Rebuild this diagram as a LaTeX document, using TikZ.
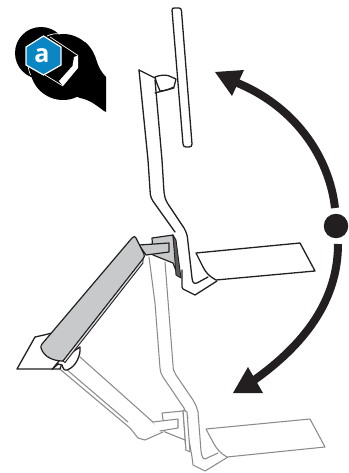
\documentclass[tikz,border=0pt]{standalone}
\usepackage{fontspec}
\setmainfont{Open Sans}
\definecolor{ink}{HTML}{231F20}
\definecolor{ghost}{HTML}{8A8A8A}
\definecolor{armgray}{HTML}{C8C9CB}
\definecolor{hexblue}{HTML}{0A86C4}
\tikzset{
  ln/.style={draw=ink,line width=1.3pt,line join=round,line cap=round,fill=none},
  gl/.style={draw=ghost,line width=1.05pt,line join=round,line cap=round,fill=none},
  pl/.style={draw=ink,line width=1.2pt,line join=round,fill=armgray},
  bigarrow/.style={draw=ink,line width=8pt,fill=none},
  head/.style={fill=ink,draw=none}
}
\begin{document}
\begin{tikzpicture}[x=1pt,y=-1pt]
\useasboundingbox (0,0) rectangle (348,473);
% ghost (lower) stand
\draw[gl] (149,257) -- (155,303) -- (160,368) .. controls (160.5,372) and (161,374) .. (163,377) -- (184,408) -- (188,418);
\draw[gl] (165,262) -- (173,365) .. controls (173,369) and (174,372) .. (176,375) -- (193,400) .. controls (196,405) and (197,408) .. (198,412) -- (201,451) .. controls (201.5,456) and (203,459) .. (205,459) -- (218,453);
\draw[gl] (189,440) -- (192,457) -- (193,465) -- (205,471) -- (228,457);
\draw[gl,fill=white] (206,429) -- (310,419) -- (325,447) -- (227,457) .. controls (220,453) and (217,449) .. (214,444) -- cycle;
\draw[gl] (80,357) -- (163,431);
\draw[gl] (55,365) -- (130,428) -- (138,438) -- (145,440) -- (163,432);
\draw[gl] (59,363) -- (128,422);
\draw[gl,fill=white] (162,413) -- (183,411) -- (186,450) -- (185,440) -- (165,432) -- cycle;
\draw[gl,fill=white] (183,410) -- (187,412) -- (190,452) -- (186,450) -- cycle;
\draw[gl,fill=white] (153,422) -- (178,419) -- (178,428) -- (160,431);
% upper stand
\draw[ln,fill=white] (172,10) .. controls (172,8) and (173,8) .. (175,8) -- (179,8) .. controls (181,8) and (181,9) .. (181.5,11) -- (192,144) .. controls (192,146) and (191,147) .. (189,147) -- (186,147) .. controls (184,147) and (183.5,146) .. (183,144) -- cycle;
\draw[ln] (139,70) -- (148,160) -- (150,190) .. controls (150,197) and (152,200) .. (155,204) -- (175,232);
\draw[ln] (155,80) -- (162,160) -- (164,192) .. controls (165,198) and (165,199) .. (168,204) -- (184,228) .. controls (186,232) and (187,234) .. (187.5,238) -- (192,278) .. controls (192.5,283) and (194,284) .. (197,283) -- (208,277);
\draw[ln] (139,70) -- (155,78);
\draw[ln] (182,270) -- (182,287) -- (183,289) -- (195,295) -- (217,281);
\draw[ln,fill=white] (155,77) .. controls (160,75) and (164,75) .. (168,75.5) -- (176,79) -- (174,87) .. controls (168,90) and (163,91) .. (160,91) .. controls (158,86) and (156,82) .. (155,77) -- cycle;
\draw[ln] (155,93) -- (174,88);
% foot
\draw[ln,fill=white] (196,253) -- (300,243) -- (315,271) -- (216,280) .. controls (209,276) and (206,273) .. (203,267) -- cycle;
% bracket
\draw[pl] (152,238) -- (173,235) -- (178,276) -- (173,263) -- (153,255) -- cycle;
\draw[draw=ink,line width=0.9pt,fill=ink!65!armgray,line join=round] (173,235) -- (176,240) -- (181,278) -- (176,275) -- cycle;
\draw[pl] (139,245) -- (169,243) -- (169,252) -- (146,255) -- cycle;
% left base
\draw[ln,fill=white] (17,369) -- (35,337) -- (44,335) -- (52,333) -- (70,340) -- (60,369) -- cycle;
\draw[ln,fill=white] (52,369.5) -- (59,361) -- (80,347) .. controls (81,355) and (76,367) .. (67,370) .. controls (64,371) and (63,368) .. (62,365) -- (58,364) -- cycle;
% gray arm
\draw[pl] (132,238) .. controls (134,236) and (135,236) .. (136,238) -- (144,254) .. controls (145,256) and (144,257) .. (143,259) -- (63,361) .. controls (53,361) and (44,357) .. (41,348) .. controls (41,346) and (41,345) .. (42,344) -- cycle;
\draw[ink,line width=0.9pt,fill=armgray!60!white] (143,259) -- (63,361) -- (65,362.5) -- (143,263) -- cycle;
% icon
\fill[black] (41,53) circle[radius=26];
\fill[black] (63,67) circle[radius=33];
\fill[black] (85,42) .. controls (92,48) and (95,55) .. (97,62) .. controls (99,68) and (102,73) .. (106,77) -- (106,112) -- (104,111) .. controls (96,105) and (90,100) .. (80,98) -- (60,90) -- cycle;
\draw[white,line width=0.7pt] (30.5,75) arc[start angle=157,end angle=183,radius=33];
\draw[white,line width=0.7pt] (47,36) .. controls (52,33.5) and (57,33.5) .. (60,34);
\fill[white] (74,57) -- (78,55.5) -- (78,68) -- (63,86) -- (59,81) -- (72.5,66) -- cycle;
\draw[white,line width=0.7pt] (50,37) -- (78,55.5);
\draw[white,line width=0.7pt] (45,75) -- (63,86);
\draw[white,line width=1.2pt,fill=hexblue,line join=miter] (43.5,36) -- (61,47) -- (61,65) -- (43.5,75) -- (26,65) -- (26,47) -- cycle;
\node[font=\bfseries\fontsize{25}{25}\selectfont,text=white,inner sep=0pt] (a) at (42,56) {a};
% motion arrows
\node[circle,fill=ink,minimum size=24.5pt,inner sep=0pt] (dot) at (336,226) {};
\coordinate (topend) at (235,82);
\coordinate (botend) at (250,383);
\draw[bigarrow] (335,208) .. controls (329,155) and (293,105) .. (topend);
\fill[head] (215,72) -- (244,70) -- (232,96) -- cycle;
\draw[bigarrow] (338,244) .. controls (338,300) and (305,345) .. (botend);
\fill[head] (233,393) -- (263,393) -- (248,367) -- cycle;
\end{tikzpicture}
\end{document}
